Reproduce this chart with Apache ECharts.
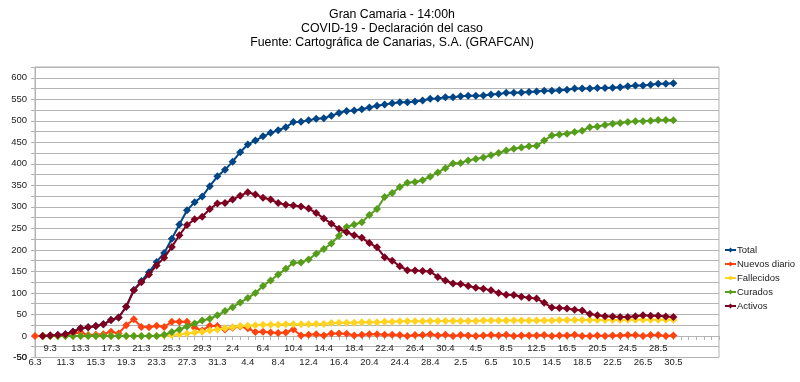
<!DOCTYPE html>
<html>
<head>
<meta charset="utf-8">
<script src="https://cdn.jsdelivr.net/npm/echarts@6/dist/echarts.min.js"></script>
<style>
html,body{margin:0;padding:0;background:#fff;}
#chart{width:800px;height:382px;}
</style>
</head>
<body>
<div id="chart"></div>
<script>
var categories = ["6.3","8.3","9.3","10.3","11.3","12.3","13.3","14.3","15.3","16.3","17.3","18.3","19.3","20.3","21.3","22.3","23.3","24.3","25.3","26.3","27.3","28.3","29.3","30.3","31.3",
"1.4","2.4","3.4","4.4","5.4","6.4","7.4","8.4","9.4","10.4","11.4","12.4","13.4","14.4","15.4","16.4","17.4","18.4","19.4","20.4","21.4","22.4","23.4","24.4","25.4","26.4","27.4","28.4","29.4","30.4",
"1.5","2.5","3.5","4.5","5.5","6.5","7.5","8.5","9.5","10.5","11.5","12.5","13.5","14.5","15.5","16.5","17.5","18.5","19.5","20.5","21.5","22.5","23.5","24.5","25.5","26.5","27.5","28.5","29.5","30.5",
"","","","","",""];

var total = [null,0,1,2,4,10,18,20,23,27, 37,43,68,107,128,148,172,193,226,259, 292,311,324,348,371,386,405,427,445,454, 464,472,478,485,497,498,501,505,506,512, 518,523,524,527,531,535,538,541,543,543, 545,547,551,552,555,555,557,558,558,559, 561,562,565,565,566,567,568,570,570,571, 572,575,575,575,576,576,577,578,580,582, 582,584,586,586,587];

var nuevos = [0,0,1,1,2,6,8,2,3,4, 10,6,25,39,21,20,24,21,33,33, 33,19,13,24,23,15,19,22,18,9, 10,8,7,8,15,1,3,4,1,6, 6,5,1,3,4,4,3,3,2,0, 2,2,4,1,3,0,2,1,0,1, 2,1,3,0,1,1,1,2,0,1, 1,3,0,0,1,0,1,1,2,2, 0,2,2,0,1];

var fallecidos = [null,0,0,0,0,0,0,0,0,0, 0,0,0,0,0,0,0,1,2,4, 6,8,10,13,15,18,20,23,24,25, 26,26,26,27,27,27,27,28,28,30, 31,31,31,32,32,32,33,33,34,34, 34,34,35,35,35,35,35,35,35,36, 36,36,36,36,36,36,36,36,36,37, 37,37,37,37,37,37,37,37,38,38, 38,38,38,38,38];

var curados = [null,0,0,0,0,0,0,0,0,0, 0,0,0,0,0,0,0,3,9,15, 22,29,36,40,48,58,67,78,88,100, 116,129,143,156,170,171,178,191,202,215, 233,253,259,264,281,295,323,332,346,356, 358,362,370,380,390,401,402,408,411,415, 420,425,431,435,438,441,442,454,466,468, 470,474,477,485,487,490,493,495,497,499, 499,500,502,502,501];

var activos = [null,0,1,2,4,10,18,20,23,27, 37,43,68,106,125,143,164,182,207,234, 258,271,277,295,308,309,317,326,334,329, 321,317,309,305,303,301,296,286,273,261, 249,241,234,228,216,206,183,175,162,153, 152,151,150,137,129,122,121,116,112,110, 106,100,96,95,91,89,87,77,66,65, 64,61,59,51,48,46,45,44,44,46, 48,47,47,45,44];

var titleLines = ["Gran Camaria - 14:00h", "COVID-19 - Declaración del caso", "Fuente: Cartográfica de Canarias, S.A. (GRAFCAN)"];
var seriesNames = ["Total","Nuevos diario","Fallecidos","Curados","Activos"];
var seriesData = [total, nuevos, fallecidos, curados, activos];
var colors = ["#004586","#ff420e","#ffd320","#579d1c","#7e0021"];
var yMin = -50, yMax = 625, yStep = 25, yLabelStep = 50;

var FONT = "'Liberation Sans', Arial, sans-serif";
var LABEL_MARGIN = 8;
var chart = echarts.init(document.getElementById('chart'), null, {renderer:'canvas'});

var series = seriesNames.map(function(n, k){
  return {
    name: n, type: 'line', data: seriesData[k],
    symbol: 'diamond', symbolSize: 8, showSymbol: true, showAllSymbol: true,
    lineStyle: {width: 2, color: colors[k]},
    itemStyle: {color: colors[k]},
    z: 2 + k,
    connectNulls: false
  };
});

var titleGraphic = {
  id: 'title', type: 'text', x: 392, y: 7, z: 10,
  style: {
    text: titleLines.join('\n'),
    textAlign: 'center',
    textVerticalAlign: 'top',
    font: "12.3px 'Liberation Sans', Arial, sans-serif",
    lineHeight: 14.3,
    fill: '#000'
  }
};

chart.setOption({
  animation: false,
  color: colors,
  graphic: [titleGraphic],
  legend: {
    orient: 'vertical', left: 724, top: 243, padding: 0,
    itemWidth: 11, itemHeight: 6, itemGap: 0,
    textStyle: {fontFamily: FONT, fontSize: 9.5, color: '#222', lineHeight: 14, padding: [0,0,0,-4]},
    data: seriesNames
  },
  grid: {left: 35, right: 81, top: 67, bottom: 24.5, show: true, borderColor: '#b3b3b3', borderWidth: 1,
         outerBoundsMode: 'none', containLabel: false},
  xAxis: {
    type: 'category', data: categories, boundaryGap: false, offset: -21.5,
    axisLine: {onZero: false, lineStyle: {color: '#b3b3b3'}},
    axisTick: {show: true, interval: 0, length: 4, inside: false, lineStyle: {color: '#b3b3b3'}},
    axisLabel: {
      interval: 1, margin: 6, fontFamily: FONT, fontSize: 9.5, color: '#222', lineHeight: 13.5,
      hideOverlap: false,
      formatter: function(v, i){ if(!v) return ''; return (i % 4 === 0) ? '\n' + v : v; }
    },
    splitLine: {show: false}
  },
  yAxis: {
    type: 'value', min: yMin, max: yMax, interval: yStep,
    axisLine: {show: true, lineStyle: {color: '#b3b3b3'}},
    axisTick: {show: true, length: 4, lineStyle: {color: '#b3b3b3'}},
    axisLabel: {
      fontFamily: FONT, fontSize: 9.5, color: '#222', margin: LABEL_MARGIN,
      showMinLabel: true, showMaxLabel: true, hideOverlap: false,
      formatter: function(v){ return (v % yLabelStep === 0) ? String(v) : ''; }
    },
    splitLine: {show: true, lineStyle: {color: '#b3b3b3', width: 1}}
  },
  series: series
});

// The lowest tick label ("-50") is suppressed by the library next to the category labels;
// place it from the library's own scale so it sits on the -50 tick.
var pMin = chart.convertToPixel({yAxisIndex: 0}, yMin);
var pLeft = chart.convertToPixel({xAxisIndex: 0}, 0);
chart.setOption({
  graphic: [titleGraphic, {
    id: 'yMinLabel', type: 'text', x: pLeft - LABEL_MARGIN, y: pMin, z: 10,
    style: {
      text: String(yMin), textAlign: 'right', textVerticalAlign: 'middle',
      font: "9.5px 'Liberation Sans', Arial, sans-serif", fill: '#222'
    }
  }]
});
</script>
</body>
</html>
